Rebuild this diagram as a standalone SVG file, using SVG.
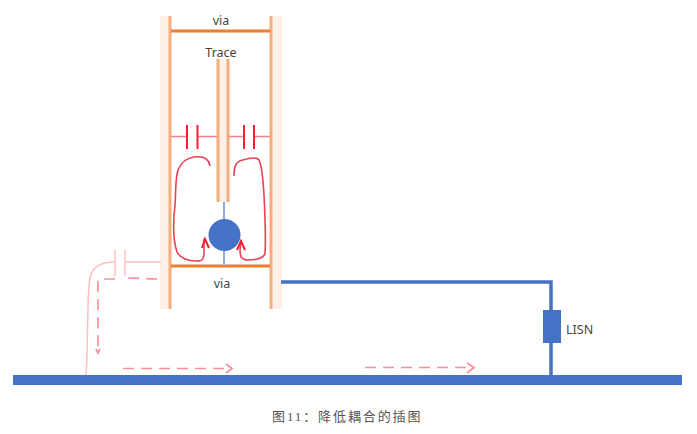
<svg xmlns="http://www.w3.org/2000/svg" width="697" height="434" viewBox="0 0 697 434">
<style>
text{font-family:"Noto Sans","Liberation Sans","Noto Sans CJK SC",sans-serif;fill:#444}
.halo{fill:#fdf0e8}
.wall{fill:none;stroke:#f4ad7c;stroke-width:3}
.org{fill:none;stroke:#ed7d31;stroke-width:3}
.blue{fill:none;stroke:#4472c4;stroke-width:3.500}
.thin{fill:none;stroke:#8faadc;stroke-width:2}
.cap{fill:none;stroke:#f77f8e;stroke-width:1.500}
.red{fill:none;stroke:#fb1c30;stroke-width:2}
.loop{fill:none;stroke:#ea3f55;stroke-width:1.600}
.fcap{fill:none;stroke:#fdbfc2;stroke-width:1.500}
.dash{fill:none;stroke:#fb8f9a;stroke-width:1.700;stroke-dasharray:11 7}
.tip{fill:none;stroke:#fb8f9a;stroke-width:1.700}
</style>
<g id="via-walls">
<rect class="halo" x="160" y="16" width="11" height="293"/>
<rect class="halo" x="270" y="16" width="12" height="293"/>
<path class="wall" d="M170 16V309M271 16V309"/>
</g>
<g id="via-top"><path class="org" d="M171 31H270"/><text x="221" y="25" font-size="12.500" text-anchor="middle">via</text></g>
<g id="trace">
<rect class="halo" x="217" y="59" width="13" height="143"/>
<path class="wall" d="M218 59V202M228 59V202"/>
<text x="221" y="57" font-size="12.500" text-anchor="middle">Trace</text>
</g>
<g id="via-bottom"><path class="org" d="M171 266H270"/><text x="222" y="288" font-size="12.500" text-anchor="middle">via</text></g>
<g id="conductor">
<path class="thin" d="M224 202V266"/>
<circle cx="224.500" cy="235" r="16" fill="#4472c4"/>
</g>
<g id="cap-left">
<path class="cap" d="M171 136.500H186M197 136.500H217"/>
<path class="red" d="M187 125V149M197.500 125V149"/>
</g>
<g id="cap-right">
<path class="cap" d="M229 136.500H244M254 136.500H270"/>
<path class="red" d="M244 125V149M254 125V149"/>
</g>
<g id="current-loops">
<path class="loop" d="M210 166C209 158 202 156 194 157C186 158 181 163 178 170C175 180 176 192 175 205C173 222 173 240 177 252C180 258 188 261 196 261C203 262 204 258 204 252L204 239"/>
<path class="red" d="M202 248L205 239L209 248"/>
<path class="loop" d="M234 176C234 166 236 161 243 160C250 158 257 157 259 160C262 166 263 178 264 195C265 215 266 238 265 254C262 259 255 260 248 260C241 260 240 256 240 250L241 241"/>
<path class="red" d="M237 250L241 241L245 250"/>
</g>
<g id="fringe-cap">
<path class="fcap" d="M115 262C98 262 90 268 89 285C87 315 88 350 86 375M126 262H161"/>
<path class="fcap" d="M115 250V276M125 250V276"/>
<path class="dash" d="M157 279C148 279 138 278 125 278M115 279H100Q98 279 98 283V350"/>
<path class="tip" d="M96 349L98 353L100 349" stroke-width="2"/>
</g>
<g id="return-plane"><rect x="13" y="375" width="669" height="10" fill="#4472c4"/></g>
<g id="return-arrows">
<path class="dash" d="M123 368.500H230"/><path class="tip" d="M226 364L232 368.500L226 373"/>
<path class="dash" d="M365 367.500H472"/><path class="tip" d="M467 363L474 367.500L467 373"/>
</g>
<g id="connectors"><path class="blue" d="M281 282H551V376"/></g>
<g id="lisn">
<rect x="543" y="310" width="18" height="33" fill="#4472c4"/>
<text x="566" y="334" font-size="12.500">LISN</text>
</g>
<text x="272" y="421" font-size="13" letter-spacing="1.900" style="font-family:'Liberation Serif','Noto Sans CJK SC',sans-serif;fill:#555">图11：降低耦合的插图</text>
</svg>
